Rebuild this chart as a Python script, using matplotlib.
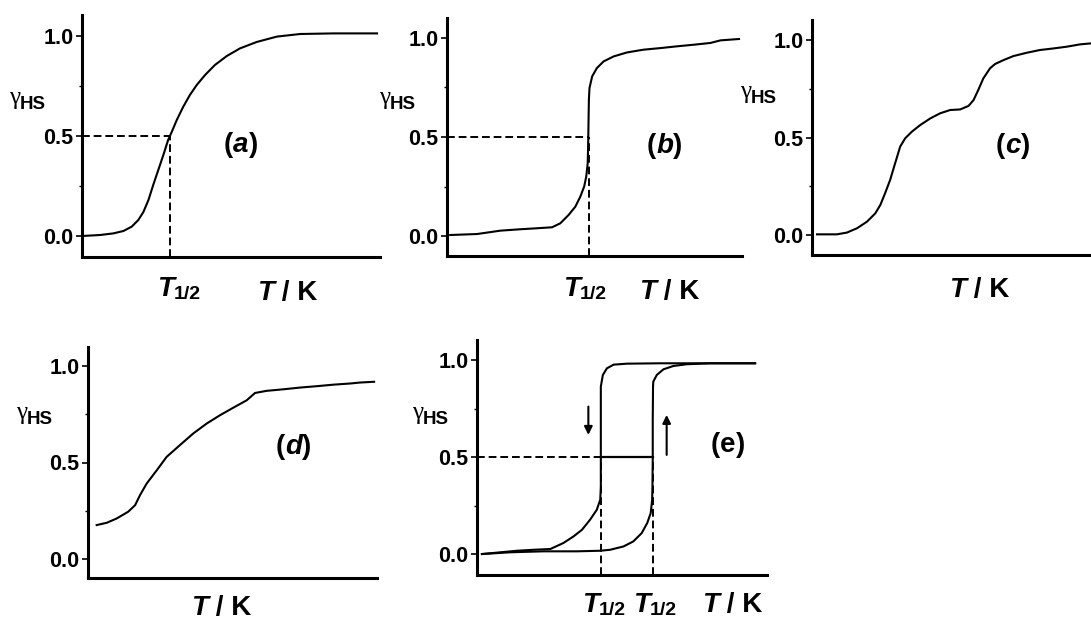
import matplotlib
matplotlib.use('Agg')
import matplotlib.pyplot as plt

W, H = 1091, 621

# ---- data (T in arbitrary units 0..100, gamma_HS) ----
Ta = [0, 6.1, 10.5, 13.9, 16.7, 18.9, 20.6, 22.3, 23.9, 25.6, 27.3, 28.9, 30.1, 31.8, 34.0,
      36.2, 38.5, 41.3, 44.6, 48.6, 53.0, 58.6, 65.4, 73.2, 84.4, 93.3, 99]
ya = [0.0, 0.005, 0.013, 0.025, 0.047, 0.08, 0.12, 0.18, 0.255, 0.33, 0.405, 0.48, 0.52, 0.58, 0.647,
      0.705, 0.755, 0.805, 0.855, 0.90, 0.938, 0.97, 0.997, 1.01, 1.013, 1.013, 1.013]

Tb = [1.1, 10.2, 18.1, 24.8, 30.4, 35.6, 38.4, 41.2, 43.5, 45.2, 46.5, 47.2, 47.7, 47.9, 48.0,
      48.1, 48.3, 49.2, 50.8, 53.1, 56.5, 61.0, 66.6, 72.3, 78.0, 83.6, 89.3, 92.7, 99]
yb = [0.005, 0.01, 0.027, 0.034, 0.039, 0.044, 0.064, 0.106, 0.148, 0.199, 0.25, 0.30, 0.368, 0.503, 0.604,
      0.688, 0.747, 0.806, 0.848, 0.882, 0.907, 0.927, 0.941, 0.949, 0.958, 0.966, 0.975, 0.988, 0.995]

Tc = [1.8, 8.9, 12.5, 16.1, 19.7, 22.7, 24.5, 26.2, 28.0, 29.8, 31.6, 33.4, 35.8, 38.8, 42.4, 45.9,
      49.5, 53.1, 56.1, 57.9, 59.6, 61.4, 63.8, 65.6, 68.6, 72.2, 77.0, 81.7, 86.5, 91.3, 96.1, 100]
yc = [0.003, 0.003, 0.012, 0.034, 0.068, 0.111, 0.154, 0.214, 0.282, 0.368, 0.453, 0.496, 0.53, 0.564, 0.598, 0.624,
      0.641, 0.644, 0.662, 0.692, 0.744, 0.803, 0.855, 0.877, 0.897, 0.918, 0.935, 0.949, 0.957, 0.966, 0.978, 0.983]

Td = [3.0, 6.5, 9.9, 13.9, 16.3, 18.0, 20.3, 23.8, 27.2, 31.8, 36.4, 41.1, 45.7, 50.3, 54.9,
      57.8, 61.8, 67.6, 73.4, 79.1, 84.9, 90.7, 94.1, 99]
yd = [0.176, 0.188, 0.21, 0.245, 0.279, 0.331, 0.391, 0.46, 0.529, 0.59, 0.65, 0.702, 0.745, 0.784, 0.822,
      0.86, 0.871, 0.879, 0.888, 0.895, 0.903, 0.909, 0.914, 0.918]

# (e) heating branch
Te_up = [1.7, 11.5, 22.9, 34.4, 42.5, 45.9, 50.5, 53.9, 56.8, 58.7, 59.9, 60.4, 60.5, 60.6, 60.6,
         60.7, 60.8, 62.0, 64.3, 67.7, 72.3, 80.4, 95.9]
ye_up = [0.0, 0.009, 0.014, 0.014, 0.017, 0.022, 0.039, 0.065, 0.108, 0.16, 0.211, 0.28, 0.348, 0.497, 0.691,
         0.863, 0.889, 0.923, 0.952, 0.969, 0.978, 0.983, 0.983]
# (e) cooling branch
Te_dn = [1.7, 13.8, 19.5, 25.3, 29.8, 33.3, 36.2, 39.0, 41.3, 42.5, 42.7, 42.7, 42.7, 42.7,
         43.4, 44.8, 47.1, 51.7, 63.1, 80.4, 95.9]
ye_dn = [0.0, 0.017, 0.022, 0.026, 0.057, 0.091, 0.125, 0.177, 0.228, 0.28, 0.348, 0.497, 0.691, 0.863,
         0.923, 0.957, 0.976, 0.981, 0.983, 0.983, 0.983]

t_half_a = 29.5
t_half_b = 48.0
t_half_e = [42.7, 60.6]
arrow_dn = [38.4, 0.76, 0.614]   # T, from, to
arrow_up = [65.4, 0.511, 0.717]

yticks = [0.0, 0.5, 1.0]
ytick_labels = ['0.0', '0.5', '1.0']

SANS = 'Liberation Sans'
SERIF = 'Liberation Serif'
LW = 1.5
DASH = (0, (4, 2))
BIG = 20
SUB = 14

fig = plt.figure(figsize=(W / 100, H / 100), dpi=100)


def panel(left, top, right, bottom, ylim):
    ax = fig.add_axes([left / W, 1 - bottom / H, (right - left) / W, (bottom - top) / H])
    ax.set_xlim(0, 100)
    ax.set_ylim(*ylim)
    for s in ['top', 'right']:
        ax.spines[s].set_visible(False)
    for s in ['left', 'bottom']:
        ax.spines[s].set_linewidth(2.2)
    ax.set_xticks([])
    ax.set_yticks(yticks)
    ax.set_yticklabels(ytick_labels, fontsize=15.5, fontweight='bold', family=SANS)
    ax.set_yticks([0.25, 0.75], minor=True)
    ax.tick_params(axis='y', which='major', direction='out', length=4.5, width=1.2, pad=1.5)
    ax.tick_params(axis='y', which='minor', direction='out', length=2.5, width=1.0)
    ax.patch.set_alpha(0)
    return ax


def chain(ax, x, y, parts):
    # parts: (text, size, style, family, dy in points)
    prev = None
    for s, size, style, fam, dy in parts:
        w = 'normal' if fam == SERIF else 'bold'
        if prev is None:
            prev = ax.annotate(s, xy=(x / W, 1 - y / H), xycoords='figure fraction',
                               ha='left', va='baseline', fontsize=size, fontstyle=style,
                               fontweight=w, family=fam, annotation_clip=False)
        else:
            prev = ax.annotate(s, xy=(1, 0), xycoords=prev, xytext=(0, dy),
                               textcoords='offset points', ha='left', va='bottom',
                               fontsize=size, fontstyle=style, fontweight=w, family=fam,
                               annotation_clip=False)


def gamma_label(ax, x, y):
    chain(ax, x, y, [('γ', 18, 'normal', SERIF, 0), ('HS', 13.5, 'normal', SANS, -3)])


def thalf_label(ax, x, y):
    chain(ax, x, y, [('T', BIG, 'italic', SANS, 0), ('1/2', SUB, 'normal', SANS, -0.5)])


def tk_label(ax, x, y):
    chain(ax, x, y, [('T', BIG, 'italic', SANS, 0), (' / K', BIG, 'normal', SANS, 0)])


def letter(ax, x, y, ch, style='italic'):
    chain(ax, x, y, [('(', BIG, 'normal', SANS, 0), (ch, BIG, style, SANS, 0),
                     (')', BIG, 'normal', SANS, 0)])


# (a)
ax = panel(82, 15, 380, 257, (-0.105, 1.105))
ax.plot(Ta, ya, color='black', lw=LW)
ax.plot([0, t_half_a], [0.5, 0.5], color='black', lw=1.4, ls=DASH)
ax.plot([t_half_a, t_half_a], [-0.105, 0.5], color='black', lw=1.4, ls=DASH)
gamma_label(ax, 9, 104)
thalf_label(ax, 157, 296)
tk_label(ax, 257, 300)
letter(ax, 224, 152, 'a')

# (b)
ax = panel(447, 18, 742, 256, (-0.101, 1.101))
ax.plot(Tb, yb, color='black', lw=LW)
ax.plot([0, t_half_b], [0.5, 0.5], color='black', lw=1.4, ls=DASH)
ax.plot([t_half_b, t_half_b], [-0.101, 0.5], color='black', lw=1.4, ls=DASH)
gamma_label(ax, 379, 104)
thalf_label(ax, 563, 296)
tk_label(ax, 639, 299)
letter(ax, 647, 153, 'b')

# (c)
ax = panel(812, 20, 1091, 255, (-0.103, 1.103))
ax.plot(Tc, yc, color='black', lw=LW, clip_on=False)
gamma_label(ax, 740, 98)
tk_label(ax, 949, 297)
letter(ax, 996, 153, 'c')

# (d)
ax = panel(88, 347, 377, 578, (-0.098, 1.098))
ax.plot(Td, yd, color='black', lw=LW)
gamma_label(ax, 16, 419)
tk_label(ax, 191, 615)
letter(ax, 276, 454, 'd')

# (e)
ax = panel(477, 340, 767, 575, (-0.108, 1.103))
ax.plot(Te_up, ye_up, color='black', lw=LW)
ax.plot(Te_dn, ye_dn, color='black', lw=LW)
ax.plot([0, t_half_e[0]], [0.5, 0.5], color='black', lw=1.4, ls=DASH)
ax.plot(t_half_e, [0.5, 0.5], color='black', lw=1.6)
for t in t_half_e:
    ax.plot([t, t], [-0.108, 0.5], color='black', lw=1.4, ls=DASH)
for a in (arrow_dn, arrow_up):
    ax.annotate('', xy=(a[0], a[2]), xytext=(a[0], a[1]),
                arrowprops=dict(arrowstyle='-|>', color='black', lw=1.5, mutation_scale=12,
                                shrinkA=0, shrinkB=0))
gamma_label(ax, 412, 419)
thalf_label(ax, 582, 612)
thalf_label(ax, 633, 612)
tk_label(ax, 702, 612)
letter(ax, 711, 452, 'e', style='normal')

fig.savefig('out.png', dpi=100)
